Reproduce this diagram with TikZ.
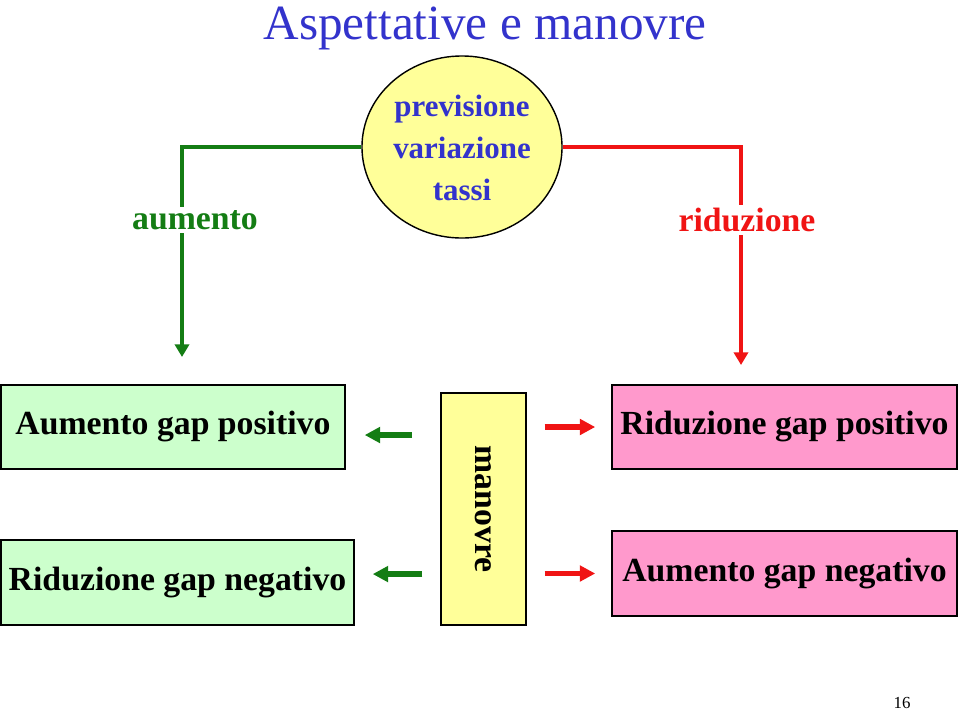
\documentclass[tikz,border=0pt]{standalone}
\usepackage{fontspec}
\setmainfont{Liberation Serif}
\usepackage{tikz}
\usetikzlibrary{arrows.meta,positioning,shapes.geometric}
\definecolor{titleblue}{RGB}{51,51,204}
\definecolor{upgreen}{RGB}{20,125,20}
\definecolor{downred}{RGB}{240,20,20}
\definecolor{lightgreen}{RGB}{204,255,204}
\definecolor{lightyellow}{RGB}{255,255,153}
\definecolor{lightpink}{RGB}{255,153,204}

\begin{document}
\begin{tikzpicture}
[x=0.025cm, y=-0.025cm,
% STYLES
% The box style is used for the gap boxes
box/.style={rectangle, draw, line width=1pt, inner sep=0pt, minimum width=8.625cm, minimum height=2.1cm, font=\fontsize{24}{28}\selectfont\bfseries},
% The label style is used for the branch names
branch/.style={fill=white, inner sep=2pt, font=\fontsize{24}{28}\selectfont\bfseries},
% The main arrows
longarrow/.style={line width=3.5pt, -{Triangle[length=9pt,width=10pt]}},
shortarrow/.style={line width=4pt, -{Triangle[length=11pt,width=11pt]}}]

\useasboundingbox (0,0) rectangle (960,712);

% Title
\node[text=titleblue, inner sep=0pt, font=\fontsize{35}{40}\selectfont] (title) at (485,28) {Aspettative e manovre};

% Draw boxes
\node [ellipse, draw, line width=1pt, fill=lightyellow, inner sep=0pt, minimum width=5cm, minimum height=4.55cm] (prev) at (462,147) {};
\node [text=titleblue, align=center, font=\fontsize{22}{30}\selectfont\bfseries] (prevtext) at (462,148) {previsione\\variazione\\tassi};
\node [box, fill=lightgreen, minimum width=8.6cm] (agp) at (173,427) {Aumento gap positivo};
\node [box, fill=lightgreen, minimum width=8.825cm, minimum height=2.125cm] (rgn) at (177.5,582.5) {Riduzione gap negativo};
\node [box, fill=lightpink] (rgp) at (784.5,427) {Riduzione gap positivo};
\node [box, fill=lightpink, minimum height=2.125cm] (agn) at (784.5,573.5) {Aumento gap negativo};
\node [box, fill=lightyellow, minimum width=2.125cm, minimum height=5.8cm] (manovre) at (483.5,509) {};
\node [rotate=-90, font=\fontsize{24}{28}\selectfont\bfseries] (manovretext) at (manovre) {manovre};

% ends of the two branches
\coordinate (upend) at (182,357);
\coordinate (downend) at (741,365);

% Draw the branches
\draw [longarrow, upgreen] (prev.west) -| (upend);
\draw [longarrow, downred] (prev.east) -| (downend);
\node [branch, text=upgreen] (aumento) at (195,220) {aumento};
\node [branch, text=downred] (riduzione) at (747,220) {riduzione};

% Draw the links between manovre and boxes
\draw [shortarrow, upgreen, shorten <=20pt, shorten >=13.5pt] ([yshift=-5.7pt]manovre.west |- agp.east) -- ([yshift=-5.7pt]agp.east);
\draw [shortarrow, upgreen, shorten <=12.8pt, shorten >=12.8pt] ([yshift=6pt]manovre.west |- rgn.east) -- ([yshift=6pt]rgn.east);
\draw [shortarrow, downred, shorten <=12.8pt, shorten >=11.4pt] (manovre.east |- rgp.west) -- (rgp.west);
\draw [shortarrow, downred, shorten <=12.8pt, shorten >=11.4pt] (manovre.east |- agn.west) -- (agn.west);

% page number
\node[font=\fontsize{12}{14}\selectfont] (page) at (902,703) {16};

\end{tikzpicture}
\end{document}
